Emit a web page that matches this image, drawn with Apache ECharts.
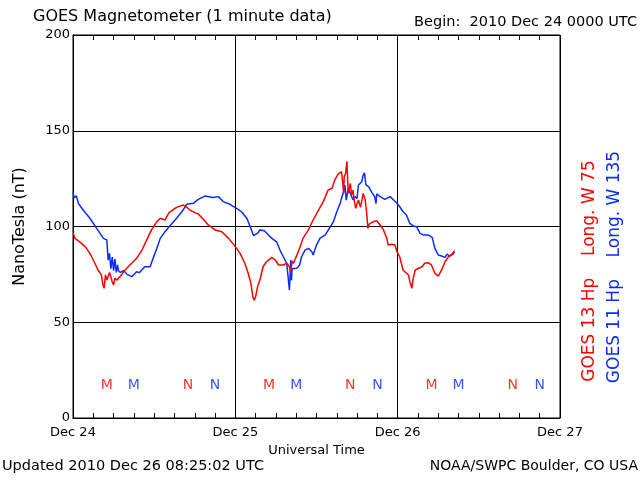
<!DOCTYPE html>
<html>
<head>
<meta charset="utf-8">
<script src="https://cdn.jsdelivr.net/npm/echarts@6/dist/echarts.min.js"></script>
<style>html,body{margin:0;padding:0;background:#fff}#c{width:640px;height:480px}</style>
</head>
<body>
<div id="c"></div>
<script>
// Hours since 2010 Dec 24 00:00 UTC
var xTickLabels = ['Dec 24', 'Dec 25', 'Dec 26', 'Dec 27'];
var yTicks = [0, 50, 100, 150, 200];

var g13Hours = [0,0.3,1.0,1.8,2.5,3.0,3.7,4.2,4.4,4.6,4.8,5.0,5.2,5.4,5.6,5.8,6.0,6.2,6.5,7.0,7.7,8.4,9.4,10.2,10.9,11.6,12.4,12.9,13.6,14.2,15.3,16.3,16.8,17.3,18.0,18.5,19.3,20.0,21.0,22.0,23.0,24.0,24.7,25.4,25.9,26.3,26.6,26.8,27.0,27.3,27.7,28.1,28.6,29.4,29.9,30.4,31.1,31.6,32.0,32.2,32.4,32.6,33.1,33.6,34.0,34.8,35.5,36.3,37.0,37.7,38.3,38.7,39.2,39.7,39.9,40.0,40.1,40.3,40.5,40.6,40.7,41.0,41.2,41.4,41.6,41.8,42.0,42.2,42.5,42.9,43.2,43.4,43.6,43.7,43.9,44.4,44.9,45.4,45.9,46.4,46.6,47.1,47.6,47.9,48.3,48.8,49.3,49.6,49.8,50.1,50.3,50.6,51.1,51.6,52.0,52.5,53.0,53.5,54.0,54.5,55.0,55.5,56.0,56.4];
var g13Values = [96.8,93.8,92,89.5,86,82.5,77.3,74.7,70,67.7,74.7,72,73,76,73.8,71,69.5,73,72,74,77.3,79.9,83.4,87.7,93,98.2,102.5,104.3,103.4,107.2,110,111.2,110.1,108.6,107.2,106.6,103.7,100.8,98.2,97.3,93.8,89.5,86,80.8,75.6,70.3,63,61.5,63.4,68.6,73,79,81.6,83.9,82.5,79.9,79.9,80.8,79,76,82,80.8,85.1,89.5,93.8,98.2,103.4,108.6,113,119,120,124.3,127.4,128.6,122,117.3,126,127.8,134,125,117.3,122.5,116.5,119,113,109.5,112,113.8,110,117.3,113.8,107.7,99,101,101.6,102.5,103,100.8,98.2,93.8,90.3,90.7,90.3,86.8,84.2,77.3,75.6,74.7,71.2,67.7,73,77.3,78.2,79,80.8,81.1,79.9,75.6,74.1,77.3,81.6,84.2,85.4,87.4];

var g11Hours = [0,0.2,0.5,0.8,1.5,2.5,3.5,4.5,5.0,5.2,5.4,5.6,5.8,6.0,6.2,6.4,6.6,6.7,7.0,7.5,8.0,8.7,9.4,9.8,10.6,11.4,11.9,12.4,12.9,13.6,14.3,15.1,16.1,16.8,17.8,18.5,19.5,20.7,21.5,22.2,23.2,24.2,24.9,25.7,26.2,26.7,27.4,27.6,28.3,28.9,29.4,30.1,30.6,31.1,31.6,31.8,31.9,32.0,32.1,32.2,32.3,32.4,32.6,33.1,33.5,33.8,34.3,34.8,35.3,35.5,36.0,36.5,37.3,38.0,38.5,39.0,39.5,39.7,40.0,40.2,40.4,40.7,41.1,41.4,41.7,42.0,42.2,42.7,42.9,43.1,43.3,43.7,44.2,44.6,44.8,44.9,45.4,46.1,46.9,47.4,47.9,48.3,48.8,49.3,49.8,50.3,50.8,51.3,51.8,52.5,53.1,53.5,54.0,54.5,55.0,55.3,55.7,56.2,56.4];
var g11Values = [117.7,115,116,112,108.6,104.3,99,93.8,93,82.5,86,78,84,77,83,76,80,77,76,77,75,73.8,76.4,75.9,79,79,84,88.6,93.8,97.3,100.3,103.4,107.7,111.6,112.1,114.2,115.9,115.2,115.6,113,111.6,109.5,107.7,104.3,99.9,95.2,96.8,98.2,97.8,95.6,93.8,92,87.7,84.2,80.8,73.8,70,66.8,75,82.5,72,78,79,78.2,79.9,84.2,87.7,88.6,86.8,85.1,90.3,93.8,95.6,99.6,102.5,107.7,112.1,114.7,118,121.7,113.8,120,116.5,114,115.6,114.7,121.7,123.4,126.9,128,121.7,120.8,117.7,115.6,112,117,115.6,114.2,115.6,113.8,112.1,110.3,107.7,106,101.6,100.3,99.9,96.4,95.6,95.6,94.3,88.6,85.1,84.6,83.9,85.6,84.6,85.6,86.8];

// Local midnight (M) and noon (N) markers
var g13MarkHours = [5, 17, 29, 41, 53, 65];
var g13MarkLabels = ['M', 'N', 'M', 'N', 'M', 'N'];
var g11MarkHours = [9, 21, 33, 45, 57, 69];
var g11MarkLabels = ['M', 'N', 'M', 'N', 'M', 'N'];
var markLevel = 17;

var RED = '#ff0000', BLUE = '#0a2cff';
var FONT = 'DejaVu Sans';

function pairs(h, v) { return h.map(function (x, i) { return [x, v[i]]; }); }
function marks(h, l) { return h.map(function (x, i) { return { value: [x, markLevel], name: l[i] }; }); }

var chart = echarts.init(document.getElementById('c'), null, { renderer: 'canvas' });
var xCommon = {
  type: 'value', min: 0, max: 72, interval: 24,
  axisLine: { show: true, lineStyle: { color: '#000', width: 1 } },
  axisTick: { show: true, inside: true, length: 5, lineStyle: { color: '#000' } },
  minorTick: { show: true, splitNumber: 8, length: 5, lineStyle: { color: '#000' } },
  splitLine: { show: false }
};
chart.setOption({
  animation: false,
  backgroundColor: '#fff',
  grid: { left: 73, right: 80, top: 35, bottom: 62, show: true, borderColor: '#000', borderWidth: 1, backgroundColor: 'transparent' },
  xAxis: [
    Object.assign({}, xCommon, {
      position: 'bottom',
      splitLine: { show: true, lineStyle: { color: '#000', width: 1 } },
      axisLabel: { show: true, margin: 8, color: '#000', fontFamily: FONT, fontSize: 13,
        formatter: function (v) { return xTickLabels[Math.round(v / 24)]; } },
      name: 'Universal Time', nameLocation: 'middle', nameGap: 24,
      nameTextStyle: { color: '#000', fontFamily: FONT, fontSize: 13 }
    }),
    Object.assign({}, xCommon, { position: 'top', axisLabel: { show: false } })
  ],
  yAxis: {
    type: 'value', min: 0, max: 200, interval: 50,
    axisLine: { show: true, lineStyle: { color: '#000' } },
    axisTick: { show: false },
    splitLine: { show: true, lineStyle: { color: '#000', width: 1 } },
    axisLabel: { margin: 3, color: '#000', fontFamily: FONT, fontSize: 13,
      formatter: function (v) { return yTicks.indexOf(v) >= 0 ? String(v) : ''; } },
    name: 'NanoTesla (nT)', nameLocation: 'middle', nameGap: 45,
    nameTextStyle: { color: '#000', fontFamily: FONT, fontSize: 16 }
  },
  series: [
    { type: 'line', data: pairs(g13Hours, g13Values), showSymbol: false, symbol: 'none',
      lineStyle: { color: RED, width: 1.5 }, z: 3 },
    { type: 'line', data: pairs(g11Hours, g11Values), showSymbol: false, symbol: 'none',
      lineStyle: { color: BLUE, width: 1.5 }, z: 2 },
    { type: 'scatter', data: marks(g13MarkHours, g13MarkLabels), symbolSize: 0,
      label: { show: true, position: 'inside', formatter: function (p) { return p.name; },
        color: RED, fontFamily: FONT, fontSize: 14 } },
    { type: 'scatter', data: marks(g11MarkHours, g11MarkLabels), symbolSize: 0,
      label: { show: true, position: 'inside', formatter: function (p) { return p.name; },
        color: BLUE, fontFamily: FONT, fontSize: 14 } }
  ],
  graphic: [
    { type: 'text', left: 33, top: 9, style: { text: 'GOES Magnetometer (1 minute data)', fill: '#000', font: '16px "DejaVu Sans"' } },
    { type: 'text', right: 3, top: 15, style: { text: 'Begin:  2010 Dec 24 0000 UTC', fill: '#000', font: '14.5px "DejaVu Sans"' } },
    { type: 'text', left: 2, top: 459, style: { text: 'Updated 2010 Dec 26 08:25:02 UTC', fill: '#000', font: '14.5px "DejaVu Sans"' } },
    { type: 'text', right: 2, top: 459, style: { text: 'NOAA/SWPC Boulder, CO USA', fill: '#000', font: '14px "DejaVu Sans"' } },
    { type: 'text', x: 590, y: 271, rotation: Math.PI / 2,
      style: { text: 'GOES 13 Hp    Long. W 75', fill: RED, font: '17px "DejaVu Sans"', align: 'center', verticalAlign: 'middle' } },
    { type: 'text', x: 615, y: 267, rotation: Math.PI / 2,
      style: { text: 'GOES 11 Hp    Long. W 135', fill: BLUE, font: '17px "DejaVu Sans"', align: 'center', verticalAlign: 'middle' } }
  ]
});
</script>
</body>
</html>
